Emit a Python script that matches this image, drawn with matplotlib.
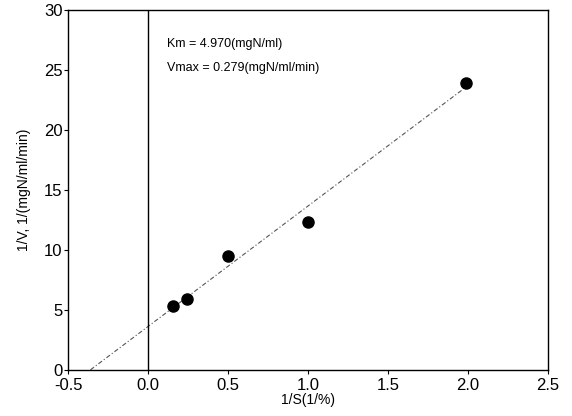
import matplotlib.pyplot as plt

plt.rcParams['font.family'] = ['Liberation Sans', 'DejaVu Sans']

# measured points (1/S, 1/V)
inv_s = [0.154, 0.244, 0.502, 1.0, 1.986]
inv_v = [5.36, 5.92, 9.5, 12.3, 23.9]

# fitted line end points
fit_x = [-0.36, 1.96]
fit_y = [0.0, 23.3]

x_ticks = [-0.5, 0.0, 0.5, 1.0, 1.5, 2.0, 2.5]
x_labels = ['-0.5', '0.0', '0.5', '1.0', '1.5', '2.0', '2.5']
y_ticks = [0, 5, 10, 15, 20, 25, 30]

km_text = 'Km = 4.970(mgN/ml)'
vmax_text = 'Vmax = 0.279(mgN/ml/min)'

fig = plt.figure(figsize=(5.72, 4.16), dpi=100)
ax = fig.add_axes([0.119, 0.111, 0.839, 0.865])

ax.plot(fit_x, fit_y, color='#555555', linewidth=0.8, linestyle=(0, (4, 2, 1, 2)))
ax.plot(inv_s, inv_v, 'o', color='black', markersize=8)
ax.axvline(0, color='black', linewidth=1.0)

ax.text(0.12, 27.2, km_text, fontsize=9, va='center', ha='left')
ax.text(0.12, 25.2, vmax_text, fontsize=9, va='center', ha='left')

ax.set_xlim(-0.5, 2.5)
ax.set_ylim(0, 30)
ax.set_xticks(x_ticks)
ax.set_xticklabels(x_labels)
ax.set_yticks(y_ticks)
ax.tick_params(axis='both', labelsize=12, length=3, width=0.8, direction='out')
ax.tick_params(axis='x', pad=3)
ax.tick_params(axis='y', pad=1)

for s in ax.spines.values():
    s.set_linewidth(1.0)

ax.set_xlabel('1/S(1/%)', fontsize=10, labelpad=0)
ax.set_ylabel('1/V, 1/(mgN/ml/min)', fontsize=10, labelpad=9)

plt.savefig('out.png', dpi=100)
